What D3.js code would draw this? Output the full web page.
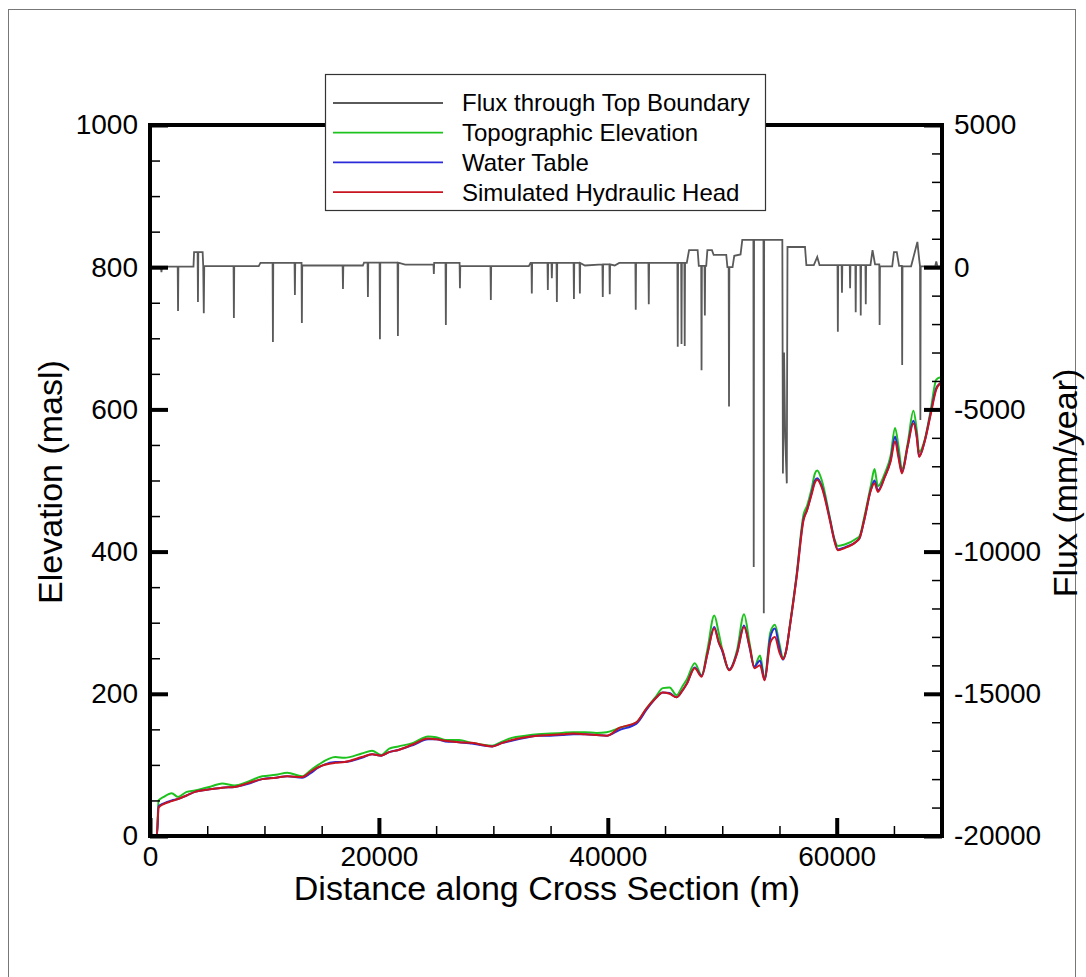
<!DOCTYPE html>
<html>
<head>
<meta charset="utf-8">
<script src="https://cdn.jsdelivr.net/npm/d3@7"></script>
<style>
  body { margin: 0; background: #fff; }
  svg text { font-family: "Liberation Sans", Arial, sans-serif; fill: #000; }
</style>
</head>
<body>
<div id="chart"></div>
<script>
// distance along the section (m), shared by the three elevation series
const distance = [0, 600, 750, 1200, 1900, 2450, 3200, 3930, 5400, 6300, 7400, 8500, 9800, 11000, 12000, 13300, 14000, 14700, 16200, 17000,
  18500, 19400, 20200, 20900, 21700, 23000, 24300, 25000, 25800, 27000, 28100, 29900, 30800, 31600, 32800, 33900, 35000, 36000, 37000, 38000,
  39000, 39900, 41000, 42500, 43400, 44200, 44800, 45400, 46000, 46500, 46900, 47600, 48200, 48700, 49300, 49700, 50000, 50600, 51300, 51900,
  52400, 52800, 53300, 53700, 54200, 54600, 55000, 55300, 55600, 55900, 56500, 57100, 57400, 57800, 58100, 58300, 58700, 59400, 59800, 60100,
  60700, 61700, 62000, 62400, 63000, 63300, 63600, 64200, 64700, 65100, 65400, 65700, 66200, 66700, 67000, 67200, 67700, 68200, 68700, 69000, 69200];

const topoElev = [0, 0, 50, 55, 60, 55, 62, 64, 70, 74, 71, 76, 84, 86, 89, 84, 92, 100, 111, 110,
  116, 120, 114, 123, 126, 131, 140, 139, 135, 135, 131, 127, 133, 138, 141, 143, 144, 145, 146, 146,
  145, 146, 152, 160, 180, 196, 208, 209, 198, 210, 220, 243, 226, 262, 310, 285, 262, 234, 262, 312,
  270, 238, 254, 222, 286, 297, 270, 250, 262, 296, 368, 452, 464, 488, 510, 514, 500, 448, 418, 408,
  410, 418, 422, 448, 494, 516, 492, 510, 534, 574, 548, 516, 552, 598, 570, 540, 558, 598, 642, 645, 640];

const waterTable = [0, 0, 42, 46, 50, 52, 57, 62, 66, 68, 69, 73, 80, 82, 84, 82, 88, 96, 104, 104,
  110, 115, 113, 118, 121, 128, 136, 136, 133, 132, 130, 126, 131, 134, 138, 141, 141, 142, 143, 143,
  142, 141, 149, 158, 178, 194, 202, 201, 195, 204, 214, 237, 225, 256, 294, 272, 260, 234, 258, 296,
  264, 238, 247, 220, 280, 292, 264, 248, 262, 294, 366, 446, 458, 482, 500, 503, 492, 446, 416, 403,
  406, 414, 419, 444, 488, 500, 486, 505, 528, 562, 536, 512, 548, 584, 562, 534, 556, 594, 630, 636, 638];

const hydraulicHead = [0, 0, 40, 45, 49, 52, 57, 62, 66, 68, 69, 74, 80, 82, 84, 83, 90, 97, 103, 104,
  111, 115, 113, 118, 121, 129, 137, 136, 134, 132, 131, 126, 131, 135, 139, 141, 142, 143, 144, 143,
  142, 141, 152, 160, 180, 194, 202, 200, 195, 204, 214, 236, 224, 256, 292, 272, 262, 233, 257, 294,
  266, 236, 240, 219, 272, 280, 258, 249, 262, 294, 364, 444, 458, 480, 497, 501, 490, 444, 415, 402,
  405, 414, 419, 444, 487, 496, 484, 505, 526, 555, 532, 510, 548, 580, 560, 533, 556, 592, 628, 636, 638];

// flux through the top boundary (mm/year) against distance (m)
const fluxDist = [0, 950, 1000, 1050, 2420, 2450, 2480, 3800, 3850, 4160, 4190, 4220, 4600, 4650, 4700, 4740,
  7300, 7330, 7360, 9500, 9650, 10710, 10740, 10770, 12630, 12660, 12690, 13240, 13270, 13300,
  16830, 16860, 16890, 18600, 18700, 19010, 19040, 19070, 20060, 20090, 20120, 21630, 21660, 21690, 22300,
  24770, 24800, 24830, 25820, 25850, 25880, 27050, 27080, 27110, 29750, 29780, 29810, 33100, 33250,
  33330, 33360, 33390, 34730, 34760, 34790, 35080, 35110, 35140, 35520, 35550, 35580,
  37010, 37040, 37070, 37530, 37560, 37590, 38000, 39530, 39560, 39590, 40140, 40170, 40200, 40600, 41000,
  42410, 42440, 42470, 43550, 43580, 43610, 46080, 46110, 46140, 46410, 46440, 46470, 46690, 46720, 46750,
  46900, 47100, 47850, 47950, 48160, 48190, 48220, 48450, 48480, 48510, 48600, 48700, 49100, 49250, 50350, 50450,
  50560, 50590, 50620, 50900, 51050, 51600, 51750, 52720, 52750, 52780, 53600, 53630, 53660, 55250, 55300,
  55400, 55500, 55640, 55700, 57230, 57350, 58000, 58300, 58500,
  60070, 60100, 60130, 60430, 60460, 60490, 61140, 61170, 61200, 61630, 61660, 61690, 62070, 62100, 62130,
  62510, 62540, 62570, 62950, 63130, 63350, 63720, 63750, 63780, 64850, 65000, 65250, 65450, 65690, 65720, 65750,
  66500, 66800, 67050, 67200, 67280, 67310, 67340, 68600, 68700, 68800, 69200];

const fluxValue = [20, 20, -170, 20, 20, -1540, 20, 20, 530, 530, -1220, 530, 530, 40, -1620, 40,
  40, -1790, 40, 40, 150, 150, -2630, 150, 150, -980, 150, 150, -1960, 60,
  60, -770, 60, 60, 160, 160, -1050, 160, 160, -2530, 160, 160, -2420, 160, 90,
  90, -240, 150, 150, -2030, 150, 150, -740, 40, 40, -1150, 40, 40, 150,
  150, -920, 150, 150, -800, 150, 150, -390, 150, 150, -1220, 150,
  150, -1120, 150, 150, -920, 150, 60, 100, -1050, 100, 100, -950, 100, 60, 150,
  150, -1500, 150, 150, -1300, 150, 150, -2800, 150, 150, -2700, 150, 150, -2770, 150,
  150, 600, 600, 50, 50, -3620, 50, 50, -1700, 50, 50, 600, 600, 430, 430, 0,
  0, -4900, 0, 0, 400, 450, 960, 960, -10540, 960, 960, -12170, 960, 960, -7250,
  -3000, -6000, -7600, 710, 710, 70, 70, 360, 70,
  70, -2270, 70, 70, -900, 70, 70, -740, 70, 70, -1580, 70, 70, -1700, 70,
  70, -1300, 70, 70, 600, 100, 100, -2030, 30, 30, 530, 530, 50, 50, -3440, 30,
  30, 500, 890, 300, 30, -5370, 30, 30, 200, 30, 30];

const elevTicks = [0, 200, 400, 600, 800, 1000];
const fluxTicks = [5000, 0, -5000, -10000, -15000, -20000];
const distTicks = [0, 20000, 40000, 60000];

const legendLabels = ['Flux through Top Boundary', 'Topographic Elevation', 'Water Table', 'Simulated Hydraulic Head'];
const legendColors = ['#5a5a5a', '#1ec21e', '#2a2ad8', '#c8141e'];

class ProfileChart {
  constructor(_config) {
    this.config = {
      parentElement: _config.parentElement,
      containerWidth: 1086,
      containerHeight: 977,
      margin: { top: 125, right: 144, bottom: 141, left: 150 },
    };
    this.initVis();
  }

  initVis() {
    const vis = this;
    vis.config.width = vis.config.containerWidth - vis.config.margin.left - vis.config.margin.right;
    vis.config.height = vis.config.containerHeight - vis.config.margin.top - vis.config.margin.bottom;

    vis.svg = d3.select(vis.config.parentElement).append('svg')
      .attr('width', vis.config.containerWidth)
      .attr('height', vis.config.containerHeight);

    // thin outer frame of the figure
    vis.svg.append('rect')
      .attr('x', 8.5).attr('y', 9.5)
      .attr('width', 1067).attr('height', 1000)
      .attr('fill', 'none').attr('stroke', '#777').attr('stroke-width', 1);

    vis.chart = vis.svg.append('g')
      .attr('transform', `translate(${vis.config.margin.left},${vis.config.margin.top})`);

    vis.xScale = d3.scaleLinear().domain([0, 69200]).range([0, vis.config.width]);
    vis.yScale = d3.scaleLinear().domain([0, 1000]).range([vis.config.height, 0]);
    vis.fluxScale = d3.scaleLinear().domain([-20000, 5000]).range([vis.config.height, 0]);

    vis.renderVis();
  }

  renderVis() {
    const vis = this;
    const w = vis.config.width, h = vis.config.height;

    // flux line
    const fluxLine = d3.line()
      .x((d, i) => vis.xScale(fluxDist[i]))
      .y(d => vis.fluxScale(d));
    vis.chart.append('path')
      .datum(fluxValue)
      .attr('d', fluxLine)
      .attr('fill', 'none')
      .attr('stroke', legendColors[0])
      .attr('stroke-width', 1.8);

    // elevation lines, smoothed like the original plot
    const elevLine = d3.line()
      .curve(d3.curveMonotoneX)
      .x((d, i) => vis.xScale(distance[i]))
      .y(d => vis.yScale(d));
    [topoElev, waterTable, hydraulicHead].forEach((series, k) => {
      vis.chart.append('path')
        .datum(series)
        .attr('d', elevLine)
        .attr('fill', 'none')
        .attr('stroke', legendColors[k + 1])
        .attr('stroke-width', 2)
        .attr('stroke-linejoin', 'round');
    });

    const fmt = d => String(d);

    // left axis
    const minorElev = d3.range(0, 1001, 50).filter(v => v % 200 !== 0);
    vis.chart.append('g').attr('class', 'axis')
      .call(d3.axisLeft(vis.yScale).tickValues(minorElev).tickSize(-10).tickFormat(''));
    vis.chart.append('g').attr('class', 'axis major')
      .call(d3.axisLeft(vis.yScale).tickValues(elevTicks).tickSize(-18).tickPadding(12).tickFormat(fmt));

    // right axis
    const minorFlux = d3.range(-20000, 5001, 1000).filter(v => v % 5000 !== 0);
    vis.chart.append('g').attr('class', 'axis')
      .attr('transform', `translate(${w},0)`)
      .call(d3.axisRight(vis.fluxScale).tickValues(minorFlux).tickSize(-10).tickFormat(''));
    vis.chart.append('g').attr('class', 'axis major')
      .attr('transform', `translate(${w},0)`)
      .call(d3.axisRight(vis.fluxScale).tickValues(fluxTicks).tickSize(-18).tickPadding(12).tickFormat(fmt));

    // bottom axis
    const minorDist = d3.range(0, 69001, 5000).filter(v => v % 20000 !== 0);
    vis.chart.append('g').attr('class', 'axis')
      .attr('transform', `translate(0,${h})`)
      .call(d3.axisBottom(vis.xScale).tickValues(minorDist).tickSize(-10).tickFormat(''));
    vis.chart.append('g').attr('class', 'axis major')
      .attr('transform', `translate(0,${h})`)
      .call(d3.axisBottom(vis.xScale).tickValues(distTicks).tickSize(-18).tickPadding(10).tickFormat(fmt));

    vis.chart.selectAll('.axis .domain').remove();
    vis.chart.selectAll('.axis line').attr('stroke', '#000').attr('stroke-width', 1.5);
    vis.chart.selectAll('.major line').attr('stroke-width', 4);
    vis.chart.selectAll('.axis text').attr('font-size', 28).attr('font-family', null);

    // frame
    vis.chart.append('rect')
      .attr('width', w).attr('height', h)
      .attr('fill', 'none').attr('stroke', '#000').attr('stroke-width', 4);

    // axis titles
    vis.svg.append('text')
      .attr('x', 547).attr('y', 900)
      .attr('text-anchor', 'middle').attr('font-size', 34)
      .text('Distance along Cross Section (m)');
    vis.svg.append('text')
      .attr('transform', 'translate(62,482) rotate(-90)')
      .attr('text-anchor', 'middle').attr('font-size', 34)
      .text('Elevation (masl)');
    vis.svg.append('text')
      .attr('transform', 'translate(1077,483) rotate(-90)')
      .attr('text-anchor', 'middle').attr('font-size', 34)
      .text('Flux (mm/year)');

    // legend
    const legend = vis.svg.append('g').attr('transform', 'translate(325,74)');
    legend.append('rect')
      .attr('x', 0.5).attr('y', 0.5).attr('width', 440).attr('height', 136)
      .attr('fill', '#fff').attr('stroke', '#333').attr('stroke-width', 1.2);
    const items = legend.selectAll('.item')
      .data(legendLabels)
      .join('g')
      .attr('class', 'item')
      .attr('transform', (d, i) => `translate(0,${29 + i * 29.7})`);
    items.append('line')
      .attr('x1', 8).attr('x2', 118)
      .attr('stroke', (d, i) => legendColors[i])
      .attr('stroke-width', 1.8);
    items.append('text')
      .attr('x', 137).attr('dy', '0.35em')
      .attr('font-size', 24)
      .text(d => d);
  }
}

new ProfileChart({ parentElement: '#chart' });
</script>
</body>
</html>
